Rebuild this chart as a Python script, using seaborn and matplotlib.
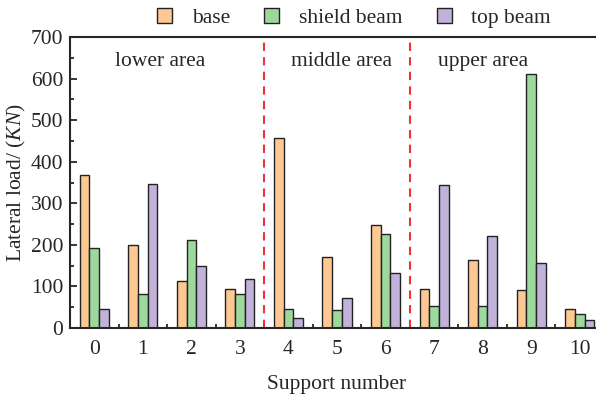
import pandas as pd
import matplotlib
matplotlib.use("Agg")
import matplotlib.pyplot as plt
import seaborn as sns
from matplotlib.ticker import MultipleLocator, FixedLocator

# -----------------------------
# DATA
# -----------------------------
supports = [0, 1, 2, 3, 4, 5, 6, 7, 8, 9, 10]
base = [368, 200, 113, 94, 457, 171, 248, 94, 164, 91, 46]
shield_beam = [192, 82, 212, 82, 46, 43, 226, 53, 53, 611, 34]
top_beam = [46, 346, 149, 118, 24, 72, 132, 344, 221, 156, 19]
series_names = ["base", "shield beam", "top beam"]
colors = ["#FEC892", "#9DD89C", "#C2B2D9"]
area_labels = ["lower area", "middle area", "upper area"]
area_x = [1.35, 5.1, 8.0]
dividers = [3.5, 6.5]

df = pd.DataFrame({
    "support": supports * 3,
    "load": base + shield_beam + top_beam,
    "kind": [series_names[0]] * 11 + [series_names[1]] * 11 + [series_names[2]] * 11,
})

# -----------------------------
# STYLE
# -----------------------------
sns.set_style("ticks")
plt.rcParams["font.family"] = "serif"
plt.rcParams["font.serif"] = ["Liberation Serif", "DejaVu Serif"]
plt.rcParams["mathtext.fontset"] = "custom"
plt.rcParams["mathtext.it"] = "Liberation Serif:italic"
plt.rcParams["mathtext.rm"] = "Liberation Serif"

FS = 15.5

fig = plt.figure(figsize=(5.96, 3.95), dpi=100)
ax = fig.add_axes([70 / 596, 1 - 328 / 395, (604 - 70) / 596, (328 - 37) / 395])

sns.barplot(data=df, x="support", y="load", hue="kind", palette=colors,
            width=0.6, edgecolor="#222222", linewidth=1.0, ax=ax, saturation=1)

ax.set_xlim(-0.5, 10.5)
ax.set_ylim(0, 700)
ax.yaxis.set_major_locator(MultipleLocator(100))
ax.yaxis.set_minor_locator(MultipleLocator(50))
ax.xaxis.set_minor_locator(FixedLocator([i + 0.5 for i in range(-1, 11)]))
ax.tick_params(axis="both", which="both", direction="in", labelsize=FS, width=1.3)
ax.tick_params(axis="both", which="major", length=0)
ax.tick_params(axis="y", which="major", length=5, pad=5)
ax.tick_params(axis="both", which="minor", length=3)
ax.tick_params(axis="x", which="major", pad=9)

for s in ax.spines.values():
    s.set_linewidth(1.5)

for d in dividers:
    ax.axvline(d, color="#EE3333", linestyle=(0, (4, 3)), linewidth=1.5)

for lab, xx in zip(area_labels, area_x):
    ax.text(xx, 640, lab, ha="center", va="center", fontsize=FS)

ax.set_xlabel("Support number", fontsize=FS, labelpad=11)
ax.set_ylabel("Lateral load/ $\\mathit{(KN)}$", fontsize=FS, labelpad=2)

leg = ax.legend(loc="lower center", bbox_to_anchor=(0.532, 1.0), ncol=3, frameon=False,
                fontsize=FS, handlelength=0.7, handleheight=0.7, columnspacing=1.6,
                handletextpad=0.9, borderaxespad=0)

fig.savefig("out.png", dpi=100)
